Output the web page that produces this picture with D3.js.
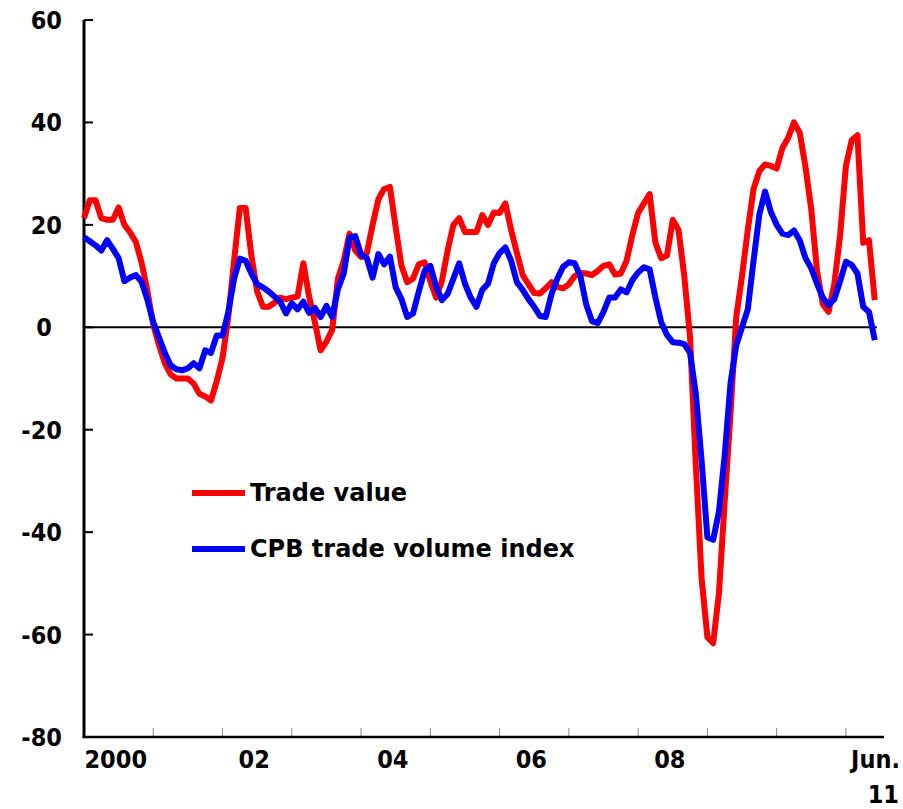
<!DOCTYPE html>
<html>
<head>
<meta charset="utf-8">
<script src="https://cdn.jsdelivr.net/npm/d3@7"></script>
<style>
  html, body { margin: 0; padding: 0; background: #fff; }
  svg { display: block; }
  .tick-label { font-family: "DejaVu Sans Condensed", "DejaVu Sans", sans-serif; font-weight: bold; font-size: 25px; fill: #000; }
  .legend-label { font-family: "DejaVu Sans", Verdana, sans-serif; font-weight: bold; font-size: 24px; fill: #000; }
</style>
</head>
<body>
<svg id="chart" width="903" height="809"></svg>
<script>
// monthly, Jan 2000 .. Jun 2011 (y/y % change)
const startYear = 2000;
const tradeValue = [
  21.3, 24.8, 24.8, 21.3, 21, 21, 23.4, 20, 18.5, 16.6, 12.5, 7,
  0.5, -3.5, -7, -9.2, -10, -10, -10, -11, -13, -13.5, -14.3, -10.5,
  -6, 2, 13, 23.3, 23.3, 14, 7, 4, 4, 4.8, 5.8, 5.5,
  5.8, 6, 12.5, 6, 1, -4.5, -2.8, -0.5, 9.5, 13, 18.3, 15,
  13.7, 14.5, 20, 25, 27, 27.4, 19.5, 12, 8.8, 9.5, 12.3, 12.7,
  9, 5.8, 9, 15, 20, 21.3, 18.6, 18.6, 18.6, 21.9, 20, 22.4,
  22.3, 24.2, 19, 14.5, 10.2, 8.4, 6.7, 6.6, 7.6, 8.8, 7.9, 7.6,
  8.4, 10, 10.6, 10.5, 10.2, 11, 12, 12.3, 10.3, 10.5, 13, 18,
  22.3, 24.2, 26, 16.5, 13.5, 14, 21, 19, 10, -2, -27, -49,
  -60.5, -61.7, -52, -34, -17, 2, 10, 19, 27, 30.5, 31.8, 31.5,
  31, 35, 37, 40, 38, 31.3, 23, 11, 4.5, 3, 8.5, 18,
  31.5, 36.5, 37.5, 16.5, 17, 5.3
];
const cpbVolume = [
  17.6, 16.8, 16, 15, 17, 15.3, 13.5, 9, 9.7, 10.2, 8.8, 5.3,
  1, -2, -5, -7.4, -8.2, -8.4, -8, -7, -8, -4.5, -5, -1.6,
  -1.6, 3, 9.5, 13.4, 13, 10.5, 8.4, 7.8, 7, 6, 5, 2.7,
  4.7, 3.5, 5, 2.8, 3.8, 2, 4.2, 2, 7.5, 10.5, 17.5, 17.8,
  14.2, 13.5, 9.7, 14.3, 12.3, 13.8, 7.8, 5.5, 2, 2.7, 7, 11,
  12, 8, 5.3, 6.5, 9.5, 12.5, 8.5, 5.8, 4, 7.3, 8.5, 12.5,
  14.5, 15.6, 13, 8.8, 7.3, 5.5, 4, 2.2, 2, 6.5, 9.5, 11.8,
  12.7, 12.5, 10, 4.5, 1.2, 0.8, 3, 5.8, 5.8, 7.4, 6.8, 9.2,
  10.7, 11.7, 11.3, 5.8, 1, -1.5, -2.9, -3, -3.3, -5, -13, -26,
  -41, -41.5, -36, -25, -11, -3.5, 0, 3.5, 13, 22, 26.5, 22.5,
  20, 18.3, 18, 18.9, 17, 13.5, 11.5, 8.5, 5.8, 4.3, 5.5, 9,
  12.8, 12.2, 10.5, 4, 3, -2.5
];
const yTicks = [60, 40, 20, 0, -20, -40, -60, -80];
const yearLabels = ["2000", "02", "04", "06", "08"];
const lastLabel = ["Jun.", "11"];
const seriesNames = ["Trade value", "CPB trade volume index"];
const seriesColors = ["#ff0000", "#0000ff"];

const svg = d3.select("#chart");
const nMonths = tradeValue.length;

const x = d3.scaleLinear().domain([0, 138.6]).range([84, 884]);
const y = d3.scaleLinear().domain([-80, 60]).range([737, 20]);

// zero line
svg.append("line")
  .attr("x1", x(0)).attr("x2", x(nMonths - 1) + 2)
  .attr("y1", y(0)).attr("y2", y(0))
  .attr("stroke", "#000").attr("stroke-width", 2);

// x axis: year boundary ticks pointing up
const yearStarts = d3.range(12, nMonths, 12);
svg.append("g").selectAll("line").data(yearStarts).join("line")
  .attr("x1", d => x(d)).attr("x2", d => x(d))
  .attr("y1", y(-80)).attr("y2", y(-80) - 9)
  .attr("stroke", "#888").attr("stroke-width", 1);
svg.append("line")
  .attr("x1", x(0) - 1.5).attr("x2", x.range()[1])
  .attr("y1", y(-80)).attr("y2", y(-80))
  .attr("stroke", "#000").attr("stroke-width", 2.5);

// y axis with inward ticks
svg.append("line")
  .attr("x1", x(0)).attr("x2", x(0))
  .attr("y1", y(60)).attr("y2", y(-80) + 1)
  .attr("stroke", "#000").attr("stroke-width", 3);
svg.append("g").selectAll("line").data(yTicks).join("line")
  .attr("x1", x(0)).attr("x2", x(0) + 9)
  .attr("y1", d => y(d)).attr("y2", d => y(d))
  .attr("stroke", "#000").attr("stroke-width", 2);
// the "0" label sits further left than the others in the original
svg.append("g").selectAll("text").data(yTicks).join("text")
  .attr("class", "tick-label")
  .attr("x", d => d === 0 ? 44 : 62)
  .attr("y", d => y(d) + 9)
  .attr("text-anchor", d => d === 0 ? "middle" : "end")
  .text(d => d);

// x labels centred on each even year
svg.append("g").selectAll("text").data(yearLabels).join("text")
  .attr("class", "tick-label")
  .attr("x", (d, i) => x(i * 24 + 5.5))
  .attr("y", 768)
  .attr("text-anchor", "middle")
  .text(d => d);
svg.append("text").attr("class", "tick-label")
  .attr("x", 900).attr("y", 768).attr("text-anchor", "end").text(lastLabel[0]);
svg.append("text").attr("class", "tick-label")
  .attr("x", 899).attr("y", 803).attr("text-anchor", "end").text(lastLabel[1]);

// series
const line = d3.line().x((d, i) => x(i)).y(d => y(d));
[tradeValue, cpbVolume].forEach((s, k) => {
  svg.append("path")
    .datum(s)
    .attr("d", line)
    .attr("fill", "none")
    .attr("stroke", seriesColors[k])
    .attr("stroke-width", 6)
    .attr("stroke-linejoin", "round");
});

// legend
const legendY = [493, 549];
seriesNames.forEach((name, k) => {
  svg.append("line")
    .attr("x1", 192).attr("x2", 245)
    .attr("y1", legendY[k]).attr("y2", legendY[k])
    .attr("stroke", seriesColors[k]).attr("stroke-width", 6);
  svg.append("text").attr("class", "legend-label")
    .attr("x", 250).attr("y", legendY[k] + 8)
    .text(name);
});
</script>
</body>
</html>
